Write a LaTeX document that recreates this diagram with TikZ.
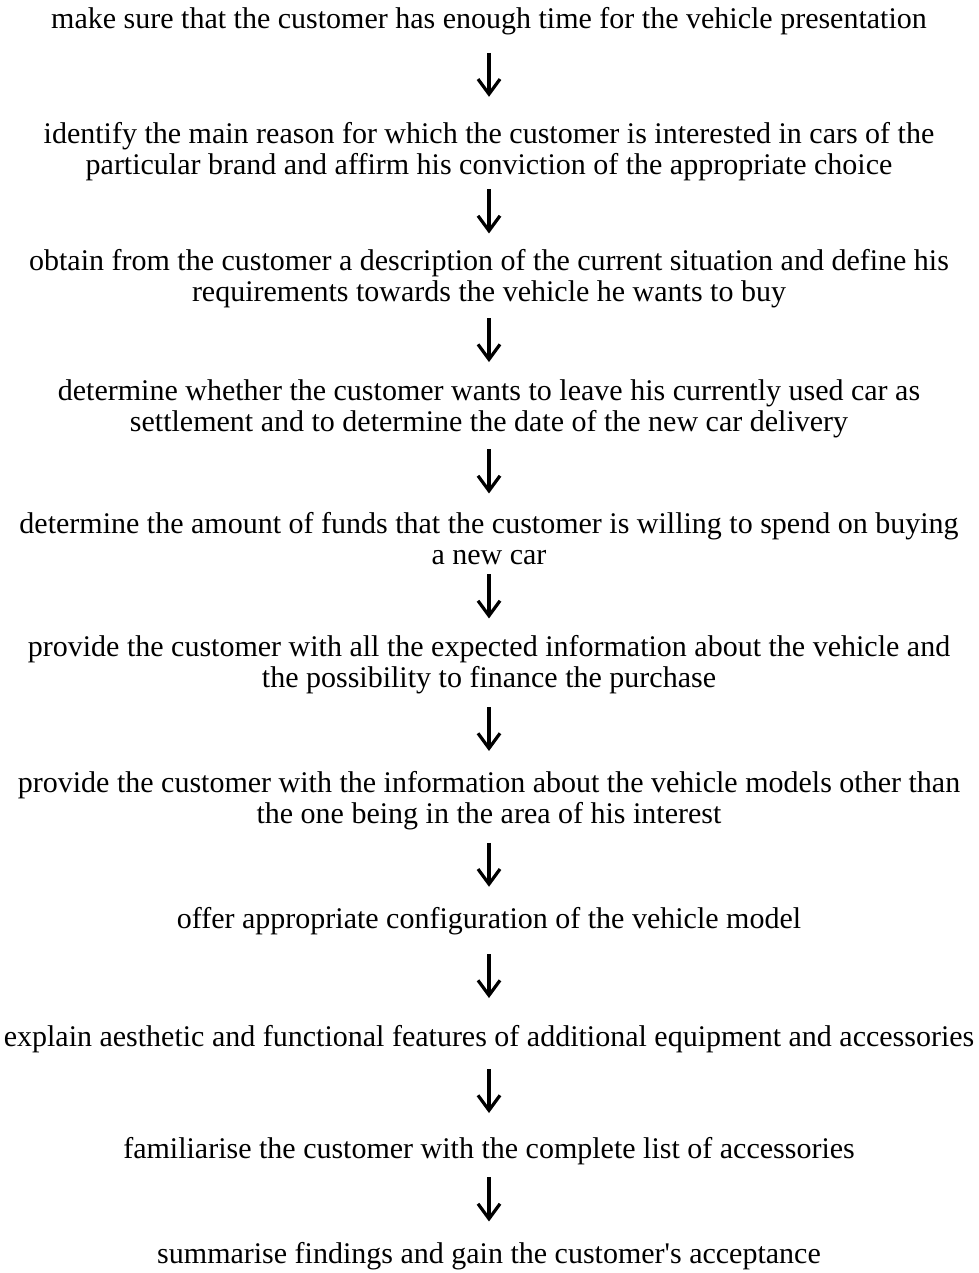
\documentclass[tikz,border=0pt]{standalone}
\usepackage{fontspec}
\setmainfont{Liberation Serif}[Ligatures=TeXOff]
\usetikzlibrary{arrows.meta,calc}
\begin{document}
\begin{tikzpicture}[x=1pt,y=-1pt,
  stepbox/.style={inner sep=0pt, outer sep=0pt, align=center, font=\fontsize{30}{31}\selectfont},
  arr/.style={line width=3.2pt, -{Straight Barb[length=15pt,width=22pt,line width=3.2pt]}}]
\useasboundingbox (0,0) rectangle (978,1273);
\node[stepbox] (n1) at (489,21) {make sure that the customer has enough time for the vehicle presentation};
\node[stepbox] (n2) at (489,152) {identify the main reason for which the customer is interested in cars of the\\particular brand and affirm his conviction of the appropriate choice};
\node[stepbox] (n3) at (489,279) {obtain from the customer a description of the current situation and define his\\requirements towards the vehicle he wants to buy};
\node[stepbox] (n4) at (489,409) {determine whether the customer wants to leave his currently used car as\\settlement and to determine the date of the new car delivery};
\node[stepbox] (n5) at (489,539) {determine the amount of funds that the customer is willing to spend on buying\\a new car};
\node[stepbox] (n6) at (489,665) {provide the customer with all the expected information about the vehicle and\\the possibility to finance the purchase};
\node[stepbox] (n7) at (489,801) {provide the customer with the information about the vehicle models other than\\the one being in the area of his interest};
\node[stepbox] (n8) at (489,921) {offer appropriate configuration of the vehicle model};
\node[stepbox] (n9) at (489,1039) {explain aesthetic and functional features of additional equipment and accessories};
\node[stepbox] (n10) at (489,1151) {familiarise the customer with the complete list of accessories};
\node[stepbox] (n11) at (489,1256) {summarise findings and gain the customer's acceptance};
\foreach \a/\b in {n1/n2,n2/n3,n3/n4,n4/n5,n5/n6,n6/n7,n7/n8,n8/n9,n9/n10,n10/n11}
  \draw[arr] ($(\a.south)!0.5!(\b.north)+(0,-26)$) coordinate (\a-top) -- ++(0,44);
\end{tikzpicture}
\end{document}
